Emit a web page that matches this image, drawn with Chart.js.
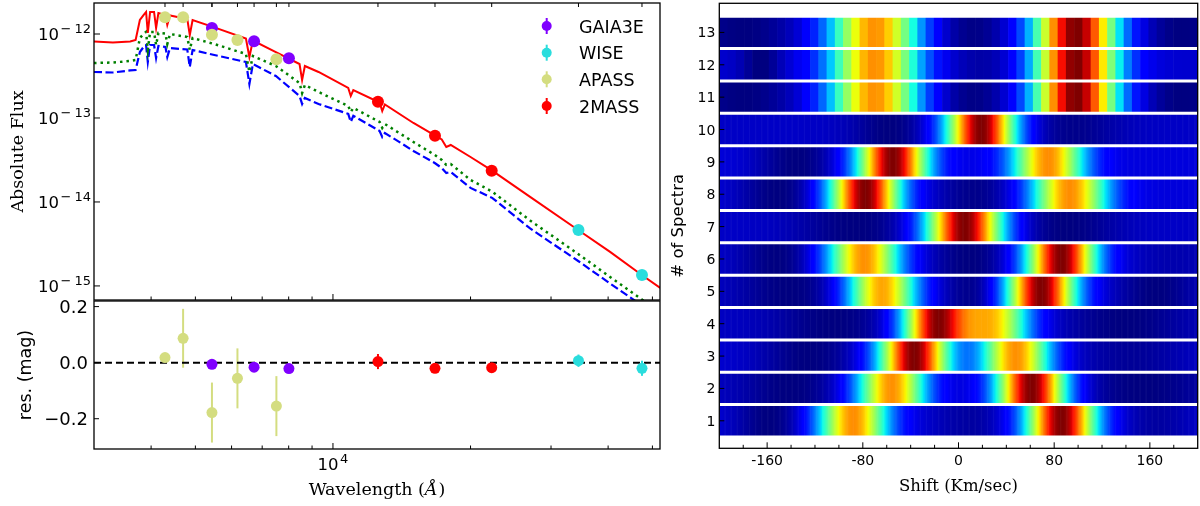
<!DOCTYPE html>
<html>
<head>
<meta charset="utf-8">
<title>SED fit and CCF strips</title>
<script src="https://cdn.jsdelivr.net/npm/chart.js@4.4.1/dist/chart.umd.min.js"></script>
<style>
  html, body { margin: 0; padding: 0; background: #fff; }
  #wrap { position: relative; width: 1200px; height: 506px; overflow: hidden; }
  #wrap canvas { position: absolute; }
</style>
</head>
<body>
<div id="wrap">
  <canvas id="sed" width="670" height="301" style="left:0;top:0"></canvas>
  <canvas id="res" width="670" height="206" style="left:0;top:300px"></canvas>
  <canvas id="ccf" width="540" height="506" style="left:660px;top:0"></canvas>
</div>
<script>
// Photometry: wavelength (A), absolute flux, residual (mag), residual error
const gaiaWave = [5435, 6720, 8010];
const gaiaFlux = [1.18e-12, 8.2e-13, 5.14e-13];
const gaiaRes = [-0.006, -0.016, -0.021];
const gaiaErr = [0.004, 0.004, 0.004];

const wiseWave = [34450, 47440];
const wiseFlux = [4.64e-15, 1.35e-15];
const wiseRes = [0.007, -0.02];
const wiseErr = [0.022, 0.027];

const apassWave = [4290, 4700, 5435, 6180, 7520];
const apassFlux = [1.58e-12, 1.58e-12, 9.8e-13, 8.5e-13, 5.0e-13];
const apassRes = [0.018, 0.087, -0.178, -0.056, -0.155];
const apassErr = [0.012, 0.105, 0.107, 0.107, 0.107];

const tmassWave = [12545, 16720, 22250];
const tmassFlux = [1.56e-13, 6.15e-14, 2.36e-14];
const tmassRes = [0.004, -0.02, -0.018];
const tmassErr = [0.027, 0.01, 0.01];

// Model SEDs (total = red, component A = green dotted, component B = blue dashed)
const modelWave = [3000, 3300, 3600, 3700, 3780, 3850, 3900, 3934, 3980, 4060, 4102, 4150,
  4300, 4340, 4400, 4800, 4861, 4930, 5500, 6450, 6563, 6680, 7500, 8450, 8560, 8680, 9300,
  10800, 10938, 11080, 12650, 12818, 12990, 15000, 16700, 17300, 17700, 18100, 20000, 22300,
  27000, 34400, 40400, 47400, 52000];
const fluxTotal = [8.14e-13, 7.92e-13, 8.14e-13, 8.48e-13, 1.47e-12, 1.68e-12, 1.83e-12, 1.03e-12,
  1.83e-12, 1.83e-12, 1.18e-12, 1.78e-12, 1.68e-12, 1.28e-12, 1.66e-12, 1.51e-12, 9.73e-13,
  1.47e-12, 1.20e-12, 8.84e-13, 5.32e-13, 8.37e-13, 6.10e-13, 4.39e-13, 2.83e-13, 4.16e-13,
  3.53e-13, 2.28e-13, 1.83e-13, 2.15e-13, 1.53e-13, 1.21e-13, 1.45e-13, 8.72e-14, 6.19e-14,
  5.55e-14, 4.52e-14, 4.77e-14, 3.43e-14, 2.36e-14, 1.15e-14, 4.64e-15, 2.54e-15, 1.35e-15, 9.46e-16];
const fluxStarA = [4.52e-13, 4.58e-13, 4.77e-13, 4.90e-13, 8.96e-13, 1.00e-12, 1.06e-12, 6.45e-13,
  1.06e-12, 1.06e-12, 7.40e-13, 1.03e-12, 1.01e-12, 7.60e-13, 1.00e-12, 9.21e-13, 6.45e-13,
  8.96e-13, 7.60e-13, 5.78e-13, 3.53e-13, 5.47e-13, 4.16e-13, 2.61e-13, 1.98e-13, 2.47e-13,
  2.04e-13, 1.39e-13, 1.18e-13, 1.32e-13, 8.96e-14, 7.60e-14, 8.48e-14, 5.18e-14, 3.63e-14,
  3.16e-14, 2.76e-14, 2.83e-14, 1.83e-14, 1.33e-14, 6.02e-15, 2.40e-15, 1.28e-15, 6.91e-16, 4.90e-16];
const fluxStarB = [3.53e-13, 3.48e-13, 3.68e-13, 3.73e-13, 6.10e-13, 7.00e-13, 7.40e-13, 4.64e-13,
  7.40e-13, 7.40e-13, 5.18e-13, 7.20e-13, 7.00e-13, 5.32e-13, 6.81e-13, 6.54e-13, 4.05e-13,
  6.45e-13, 5.62e-13, 4.64e-13, 2.54e-13, 4.39e-13, 3.16e-13, 1.83e-13, 1.47e-13, 1.73e-13,
  1.47e-13, 1.12e-13, 8.96e-14, 1.06e-13, 7.00e-14, 5.94e-14, 6.63e-14, 4.05e-14, 2.91e-14,
  2.54e-14, 2.21e-14, 2.28e-14, 1.47e-14, 1.12e-14, 4.84e-15, 1.98e-15, 1.07e-15, 5.86e-16, 4.16e-16];

// Axis ticks
const fluxTicks = [1e-12, 1e-13, 1e-14, 1e-15];
const resTicks = [-0.2, 0, 0.2];
const resTickLabels = ['\u22120.2', '0.0', '0.2'];
const shiftTicks = [-160, -80, 0, 80, 160];
const shiftTickLabels = ['-160', '-80', '0', '80', '160'];

// CCF strips: one row per spectrum, peaks (shift km/s, width, height)
const spectraNo = [1, 2, 3, 4, 5, 6, 7, 8, 9, 10, 11, 12, 13];
const peak1Shift = [86, 61, -37, -19, 69, 86, 5, -78, -55, 19, 98, 98, 98];
const peak1Width = [20, 20, 20, 19, 20, 20, 22, 20, 20, 20, 24, 24, 24];
const peak1Height = [0.92, 0.92, 0.92, 0.92, 0.92, 0.92, 0.92, 0.92, 0.92, 0.92, 0.92, 0.92, 0.92];
const peak2Shift = [-88, -56, 48, 29, -64, -79, 0, 93, 75, 0, -70, -70, -70];
const peak2Width = [20, 20, 20, 21, 20, 21, 20, 22, 21, 20, 26, 26, 26];
const peak2Height = [0.68, 0.68, 0.68, 0.64, 0.66, 0.68, 0, 0.68, 0.68, 0, 0.68, 0.68, 0.68];
const ccfBase = [0.08, 0.06, 0.07, 0.06, 0.07, 0.07, 0.06, 0.08, 0.08, 0.06, 0.07, 0.09, 0.07];
const ccfDips = [
  [[-157, 22, -0.08], [10, 25, -0.05], [165, 25, -0.05]],
  [[-140, 30, -0.06], [155, 40, -0.06]],
  [[-125, 30, -0.07], [145, 35, -0.05]],
  [[-105, 35, -0.06], [140, 35, -0.06]],
  [[-140, 35, -0.07], [15, 22, -0.07], [165, 25, -0.07]],
  [[-150, 25, -0.07], [10, 25, -0.07], [180, 30, -0.03]],
  [[-85, 35, -0.06], [90, 30, -0.06]],
  [[-150, 25, -0.08], [14, 25, -0.07]],
  [[-135, 25, -0.08]],
  [[-57, 22, -0.06], [95, 28, -0.05]],
  [[-180, 30, -0.06], [10, 25, -0.06], [185, 25, -0.06]],
  [[-165, 12, -0.07], [25, 30, -0.04]],
  [[-180, 30, -0.06], [10, 25, -0.06], [185, 25, -0.06]]
];
const binStep = [1, 1, 1, 1, 1, 1, 1, 1, 1, 1, 6.9, 6.9, 6.9];

const COL_GAIA = '#8000ff', COL_WISE = '#2adddd', COL_APASS = '#d4dd80', COL_2MASS = '#ff0000';
const SANS = '"DejaVu Sans"', SERIF = '"DejaVu Serif"';

// ---------- helpers ----------
function pts(xs, ys) { return xs.map((x, i) => ({ x: x, y: ys[i] })); }

function line(ctx, x0, y0, x1, y1) {
  ctx.beginPath(); ctx.moveTo(x0, y0); ctx.lineTo(x1, y1); ctx.stroke();
}

function frame(ctx, a) {
  ctx.strokeStyle = '#000'; ctx.lineWidth = 1.3;
  ctx.strokeRect(a.left, a.top, a.right - a.left, a.bottom - a.top);
}

function drawPow10(ctx, exp, x, yMid, align) {
  const big = '16.5px ' + SANS, small = '13px ' + SANS;
  const digits = String(Math.abs(exp));
  ctx.font = big; const wBase = ctx.measureText('10').width;
  ctx.font = small;
  const wMinus = exp < 0 ? ctx.measureText('\u2212').width + 3 : 0;
  const wDig = ctx.measureText(digits).width;
  const total = wBase + 1.5 + wMinus + wDig;
  let left = align === 'right' ? x - total : x - total / 2;
  ctx.textAlign = 'left'; ctx.textBaseline = 'alphabetic'; ctx.fillStyle = '#000';
  ctx.font = big; ctx.fillText('10', left, yMid + 6);
  left += wBase + 1.5;
  ctx.font = small;
  if (exp < 0) { ctx.fillText('\u2212', left, yMid - 1); left += wMinus; }
  ctx.fillText(digits, left, yMid - 1);
}

// minor/major ticks of the wavelength axis
function waveTicks(scale) {
  const out = [];
  for (let d = 1000; d <= 10000; d *= 10) {
    for (let m = 1; m <= 9; m++) {
      const v = m * d;
      if (v > scale.min * 1.01 && v < scale.max * 0.99) out.push({ v: v, major: m === 1 });
    }
  }
  return out;
}

function drawWaveTicks(ctx, chart, edge) {
  const { scales: { x } } = chart;
  ctx.strokeStyle = '#000'; ctx.lineWidth = 1;
  waveTicks(x).forEach(t => {
    const px = x.getPixelForValue(t.v);
    line(ctx, px, edge, px, edge - (t.major ? 6 : 3.5));
  });
}

// ---------- top: SED ----------
const allBands = [].concat(gaiaWave, wiseWave, apassWave, tmassWave);

const sedDecor = {
  id: 'sedDecor',
  afterDraw(chart) {
    const { ctx, chartArea: a, scales: { x, y } } = chart;
    ctx.save();
    frame(ctx, a);
    ctx.lineWidth = 1;
    fluxTicks.forEach(v => {
      const py = y.getPixelForValue(v);
      line(ctx, a.left, py, a.left + 6, py);
      drawPow10(ctx, Math.round(Math.log10(v)), a.left - 3, py, 'right');
    });
    drawWaveTicks(ctx, chart, a.bottom);
    allBands.forEach(w => {
      const px = x.getPixelForValue(w);
      line(ctx, px, a.top, px, a.top + 4);
    });
    // y title
    ctx.save();
    ctx.translate(18, (a.top + a.bottom) / 2);
    ctx.rotate(-Math.PI / 2);
    ctx.font = '17.5px ' + SERIF; ctx.textAlign = 'center'; ctx.textBaseline = 'middle';
    ctx.fillStyle = '#000';
    ctx.fillText('Absolute Flux', 0, 0);
    ctx.restore();
    // legend
    const items = [['GAIA3E', COL_GAIA], ['WISE', COL_WISE], ['APASS', COL_APASS], ['2MASS', COL_2MASS]];
    const rowsY = [26, 52.7, 79.3, 106];
    items.forEach((it, i) => {
      const ly = rowsY[i];
      ctx.strokeStyle = it[1]; ctx.lineWidth = 2;
      line(ctx, 546.7, ly - 8, 546.7, ly + 8);
      ctx.fillStyle = it[1];
      ctx.beginPath(); ctx.arc(546.7, ly, 5, 0, Math.PI * 2); ctx.fill();
      ctx.fillStyle = '#000';
      ctx.font = '17.5px ' + SANS; ctx.textAlign = 'left'; ctx.textBaseline = 'alphabetic';
      ctx.fillText(it[0], 579, ly + 6.5);
    });
    ctx.restore();
  }
};

function photoSet(label, xs, ys, color, order, radius) {
  return {
    label: label, data: pts(xs, ys), order: order,
    pointRadius: radius, pointBackgroundColor: color, pointBorderColor: color,
    pointBorderWidth: 0, backgroundColor: color, borderColor: color, showLine: false
  };
}

new Chart(document.getElementById('sed'), {
  type: 'scatter',
  data: {
    datasets: [
      photoSet('GAIA3E', gaiaWave, gaiaFlux, COL_GAIA, 4, 6),
      photoSet('WISE', wiseWave, wiseFlux, COL_WISE, 3, 6),
      photoSet('APASS', apassWave, apassFlux, COL_APASS, 2, 6),
      photoSet('2MASS', tmassWave, tmassFlux, COL_2MASS, 1, 6),
      { label: 'total', data: pts(modelWave, fluxTotal), showLine: true, pointRadius: 0,
        borderColor: '#ff0000', borderWidth: 2, order: 10 },
      { label: 'A', data: pts(modelWave, fluxStarA), showLine: true, pointRadius: 0,
        borderColor: '#008000', borderWidth: 2.5, borderDash: [2.5, 4], order: 11 },
      { label: 'B', data: pts(modelWave, fluxStarB), showLine: true, pointRadius: 0,
        borderColor: '#0000ff', borderWidth: 2.2, borderDash: [8, 3.5], order: 12 }
    ]
  },
  options: {
    responsive: false, animation: false, events: [],
    layout: { autoPadding: false, padding: { left: 94, right: 10, top: 3, bottom: 1 } },
    plugins: { legend: { display: false }, tooltip: { enabled: false } },
    scales: {
      x: { type: 'logarithmic', min: 3000, max: 51950, bounds: 'data', display: false },
      y: { type: 'logarithmic', min: 6.8e-16, max: 2.34e-12, bounds: 'data', display: false }
    }
  },
  plugins: [sedDecor]
});

// ---------- bottom: residuals ----------
const errorSets = [
  [gaiaWave, gaiaRes, gaiaErr, COL_GAIA],
  [wiseWave, wiseRes, wiseErr, COL_WISE],
  [apassWave, apassRes, apassErr, COL_APASS],
  [tmassWave, tmassRes, tmassErr, COL_2MASS]
];

const resDecor = {
  id: 'resDecor',
  beforeDatasetsDraw(chart) {
    const { ctx, scales: { x, y } } = chart;
    ctx.save();
    ctx.lineWidth = 2;
    errorSets.forEach(s => {
      ctx.strokeStyle = s[3];
      s[0].forEach((w, i) => {
        const px = x.getPixelForValue(w);
        line(ctx, px, y.getPixelForValue(s[1][i] - s[2][i]), px, y.getPixelForValue(s[1][i] + s[2][i]));
      });
    });
    ctx.restore();
  },
  afterDraw(chart) {
    const { ctx, chartArea: a, scales: { x, y } } = chart;
    ctx.save();
    frame(ctx, a);
    ctx.lineWidth = 1;
    resTicks.forEach((v, i) => {
      const py = y.getPixelForValue(v);
      line(ctx, a.left, py, a.left + 5, py);
      ctx.fillStyle = '#000'; ctx.font = '18px ' + SANS;
      ctx.textAlign = 'right'; ctx.textBaseline = 'alphabetic';
      ctx.fillText(resTickLabels[i], a.left - 6, py + 6.5);
    });
    drawWaveTicks(ctx, chart, a.bottom);
    drawPow10(ctx, 4, x.getPixelForValue(10000), a.bottom + 15, 'center');
    // x title with italic Angstrom
    ctx.fillStyle = '#000'; ctx.textAlign = 'left'; ctx.textBaseline = 'alphabetic';
    const p1 = 'Wavelength (', p2 = '\u00c5', p3 = ')';
    ctx.font = '17.5px ' + SERIF; const w1 = ctx.measureText(p1).width, w3 = ctx.measureText(p3).width;
    ctx.font = 'italic 17.5px ' + SERIF; const w2 = ctx.measureText(p2).width;
    let tx = (a.left + a.right) / 2 - (w1 + w2 + w3 + 1) / 2;
    const ty = 195;
    ctx.font = '17.5px ' + SERIF; ctx.fillText(p1, tx, ty); tx += w1;
    ctx.font = 'italic 17.5px ' + SERIF; ctx.fillText(p2, tx, ty); tx += w2 + 1;
    ctx.font = '17.5px ' + SERIF; ctx.fillText(p3, tx, ty);
    // y title
    ctx.save();
    ctx.translate(26, (a.top + a.bottom) / 2);
    ctx.rotate(-Math.PI / 2);
    ctx.font = '17.5px ' + SANS; ctx.textAlign = 'center'; ctx.textBaseline = 'middle';
    ctx.fillText('res. (mag)', 0, 0);
    ctx.restore();
    ctx.restore();
  }
};

new Chart(document.getElementById('res'), {
  type: 'scatter',
  data: {
    datasets: [
      photoSet('GAIA3E', gaiaWave, gaiaRes, COL_GAIA, 4, 5.5),
      photoSet('WISE', wiseWave, wiseRes, COL_WISE, 3, 5.5),
      photoSet('APASS', apassWave, apassRes, COL_APASS, 2, 5.5),
      photoSet('2MASS', tmassWave, tmassRes, COL_2MASS, 1, 5.5),
      { label: 'zero', data: [{ x: 3000, y: 0 }, { x: 51950, y: 0 }], showLine: true, pointRadius: 0,
        borderColor: '#000', borderWidth: 2, borderDash: [7, 4], order: 10 }
    ]
  },
  options: {
    responsive: false, animation: false, events: [],
    layout: { autoPadding: false, padding: { left: 94, right: 10, top: 1, bottom: 57 } },
    plugins: { legend: { display: false }, tooltip: { enabled: false } },
    scales: {
      x: { type: 'logarithmic', min: 3000, max: 51950, bounds: 'data', display: false },
      y: { type: 'linear', min: -0.308, max: 0.22, bounds: 'data', display: false }
    }
  },
  plugins: [resDecor]
});

// ---------- right: CCF strips ----------
const JET_R = [[0, 0], [0.35, 0], [0.66, 1], [0.89, 1], [1, 0.5]];
const JET_G = [[0, 0], [0.125, 0], [0.375, 1], [0.64, 1], [0.91, 0], [1, 0]];
const JET_B = [[0, 0.5], [0.11, 1], [0.34, 1], [0.65, 0], [1, 0]];

function jetChan(t, p) {
  for (let i = 1; i < p.length; i++) {
    if (t <= p[i][0]) {
      const f = (t - p[i - 1][0]) / (p[i][0] - p[i - 1][0]);
      return p[i - 1][1] + (p[i][1] - p[i - 1][1]) * f;
    }
  }
  return p[p.length - 1][1];
}

function jet(t) {
  t = Math.max(0, Math.min(1, t));
  return 'rgb(' + Math.round(255 * jetChan(t, JET_R)) + ',' +
    Math.round(255 * jetChan(t, JET_G)) + ',' + Math.round(255 * jetChan(t, JET_B)) + ')';
}

function ccfLevel(r, v) {
  const g = (c, w, h) => h * Math.exp(-0.5 * Math.pow((v - c) / w, 2));
  let s = ccfBase[r] + g(peak1Shift[r], peak1Width[r], peak1Height[r]) +
    g(peak2Shift[r], peak2Width[r], peak2Height[r]);
  ccfDips[r].forEach(d => { s += g(d[0], d[1], d[2]); });
  return s;
}

const ccfDecor = {
  id: 'ccfDecor',
  beforeDatasetsDraw(chart) {
    const { ctx, chartArea: a, scales: { x, y } } = chart;
    ctx.save();
    ctx.beginPath(); ctx.rect(a.left, a.top, a.right - a.left, a.bottom - a.top); ctx.clip();
    spectraNo.forEach((n, r) => {
      const step = binStep[r];
      const cells = [];
      for (let v = x.min; v < x.max - 1e-9; v += step) cells.push([v, ccfLevel(r, v + step / 2)]);
      const lo = Math.min.apply(null, cells.map(c => c[1]));
      const hi = Math.max.apply(null, cells.map(c => c[1]));
      const yTop = y.getPixelForValue(n + 0.5), yBot = y.getPixelForValue(n - 0.5);
      cells.forEach(c => {
        const x0 = x.getPixelForValue(c[0]), x1 = x.getPixelForValue(c[0] + step);
        ctx.fillStyle = jet((c[1] - lo) / (hi - lo));
        ctx.fillRect(x0, yTop, x1 - x0 + 0.6, yBot - yTop);
      });
    });
    ctx.strokeStyle = '#fff'; ctx.lineWidth = 3;
    for (let k = 0; k <= spectraNo.length; k++) {
      const py = y.getPixelForValue(k + 0.5);
      line(ctx, a.left, py, a.right, py);
    }
    ctx.restore();
  },
  afterDraw(chart) {
    const { ctx, chartArea: a, scales: { x, y } } = chart;
    ctx.save();
    frame(ctx, a);
    ctx.lineWidth = 1; ctx.fillStyle = '#000'; ctx.strokeStyle = '#000';
    ctx.font = '14px ' + SANS; ctx.textAlign = 'right'; ctx.textBaseline = 'alphabetic';
    spectraNo.forEach(n => {
      const py = y.getPixelForValue(n);
      line(ctx, a.left, py, a.left + 5, py);
      ctx.fillText(String(n), a.left - 4, py + 5);
    });
    for (let v = -180; v <= 180; v += 20) {
      const px = x.getPixelForValue(v);
      const major = shiftTicks.indexOf(v) >= 0;
      line(ctx, px, a.bottom, px, a.bottom - (major ? 6 : 3.5));
    }
    ctx.textAlign = 'center';
    shiftTicks.forEach((v, i) => {
      ctx.fillText(shiftTickLabels[i], x.getPixelForValue(v), a.bottom + 17);
    });
    ctx.font = '16.5px ' + SERIF;
    ctx.fillText('Shift (Km/sec)', (a.left + a.right) / 2, 491);
    ctx.save();
    ctx.translate(19, (a.top + a.bottom) / 2);
    ctx.rotate(-Math.PI / 2);
    ctx.font = '16.5px ' + SANS; ctx.textAlign = 'center'; ctx.textBaseline = 'middle';
    ctx.fillText('# of Spectra', 0, 0);
    ctx.restore();
    ctx.restore();
  }
};

new Chart(document.getElementById('ccf'), {
  type: 'scatter',
  data: { datasets: [{ label: 'rows', data: [], pointRadius: 0 }] },
  options: {
    responsive: false, animation: false, events: [],
    layout: { autoPadding: false, padding: { left: 59.3, right: 2.3, top: 3.3, bottom: 57.7 } },
    plugins: { legend: { display: false }, tooltip: { enabled: false } },
    scales: {
      x: { type: 'linear', min: -200, max: 200, bounds: 'data', display: false },
      y: { type: 'linear', min: 0.15, max: 13.9, bounds: 'data', display: false }
    }
  },
  plugins: [ccfDecor]
});
</script>
</body>
</html>
